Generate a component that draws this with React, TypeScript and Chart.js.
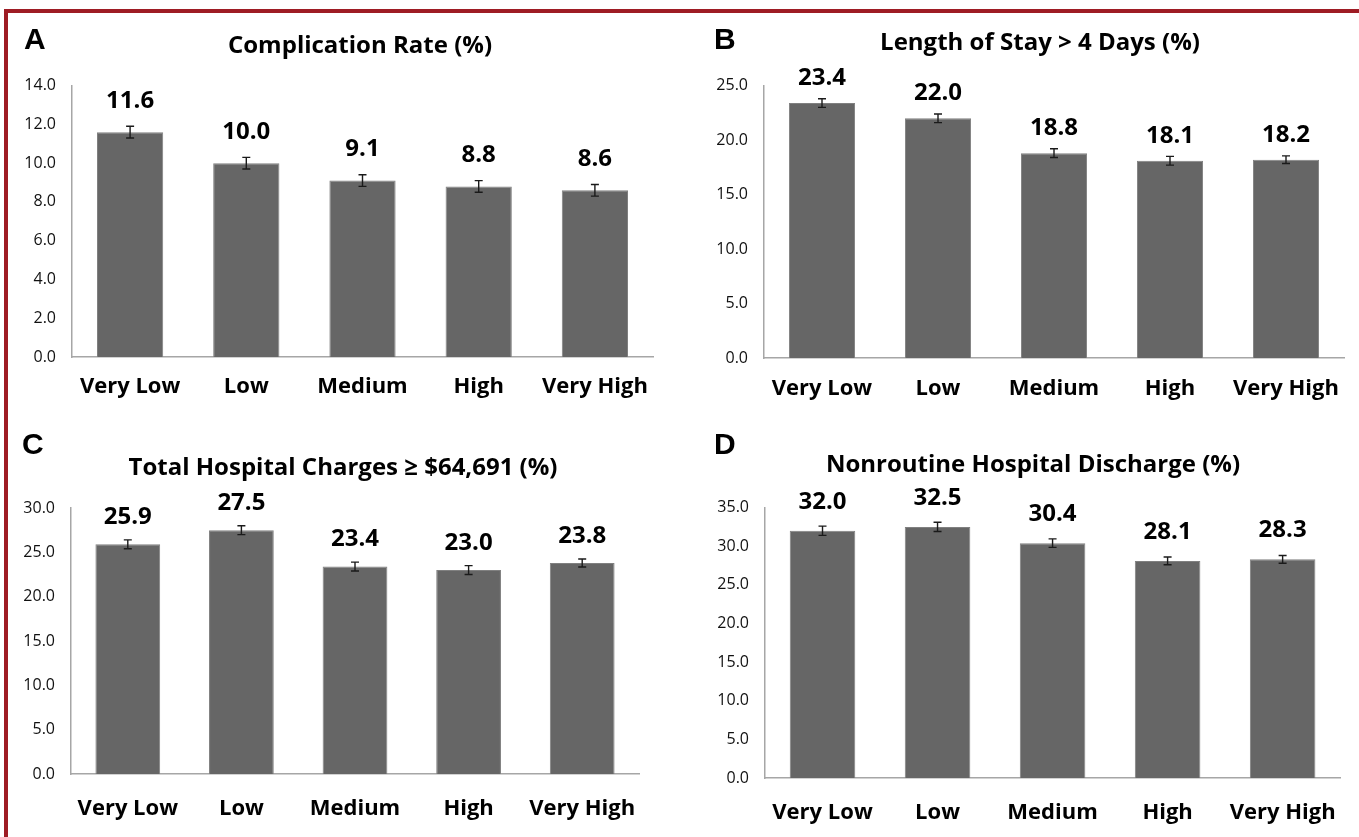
import React, { useEffect, useRef } from "react";
import { Chart, registerables } from "chart.js";

Chart.register(...registerables);

const categories = ["Very Low", "Low", "Medium", "High", "Very High"];

const complicationRate = [11.6, 10.0, 9.1, 8.8, 8.6];
const complicationErr = [0.3, 0.3, 0.3, 0.3, 0.3];

const lengthOfStay = [23.4, 22.0, 18.8, 18.1, 18.2];
const lengthOfStayErr = [0.4, 0.4, 0.4, 0.4, 0.35];

const hospitalCharges = [25.9, 27.5, 23.4, 23.0, 23.8];
const hospitalChargesErr = [0.5, 0.5, 0.5, 0.5, 0.45];

const nonroutineDischarge = [32.0, 32.5, 30.4, 28.1, 28.3];
const nonroutineDischargeErr = [0.6, 0.6, 0.55, 0.5, 0.5];

const titles = [
  "Complication Rate (%)",
  "Length of Stay > 4 Days (%)",
  "Total Hospital Charges \u2265 $64,691 (%)",
  "Nonroutine Hospital Discharge (%)",
];
const letters = ["A", "B", "C", "D"];

const FONT = '"Open Sans", "DejaVu Sans", sans-serif';

const errorLabelPlugin = {
  id: "errLabels",
  afterDatasetsDraw(chart: any, _args: any, opts: any) {
    const { ctx } = chart;
    const meta = chart.getDatasetMeta(0);
    const ys = chart.scales.y;
    const data = chart.data.datasets[0].data as number[];
    const errs: number[] = opts.errors || [];
    meta.data.forEach((bar: any, i: number) => {
      const v = data[i];
      const e = errs[i] || 0;
      const x = bar.x;
      const yHi = ys.getPixelForValue(v + e);
      const yLo = ys.getPixelForValue(v - e);
      ctx.save();
      ctx.strokeStyle = "#1a1a1a";
      ctx.lineWidth = 1.4;
      ctx.beginPath();
      ctx.moveTo(x, yHi);
      ctx.lineTo(x, yLo);
      ctx.moveTo(x - 4, yHi);
      ctx.lineTo(x + 4, yHi);
      ctx.moveTo(x - 4, yLo);
      ctx.lineTo(x + 4, yLo);
      ctx.stroke();
      ctx.fillStyle = "#000";
      ctx.font = `bold 24px ${FONT}`;
      ctx.textAlign = "center";
      ctx.textBaseline = "middle";
      ctx.fillText(v.toFixed(1), x, ys.getPixelForValue(v) - opts.offset);
      ctx.restore();
    });
  },
};

type PanelProps = {
  values: number[];
  errors: number[];
  max: number;
  step: number;
  canvas: { x: number; y: number; w: number; h: number };
  area: { left: number; right: number; top: number; bottom: number };
  labelOffset: number;
  tickPad: number;
};

function Panel({ values, errors, max, step, canvas, area, labelOffset, tickPad }: PanelProps) {
  const ref = useRef<HTMLCanvasElement | null>(null);
  useEffect(() => {
    if (!ref.current) return;
    const padLeft = 4;
    const yWidth = area.left - canvas.x - padLeft;
    const xHeight = canvas.y + canvas.h - area.bottom;
    const chart = new Chart(ref.current, {
      type: "bar",
      data: {
        labels: categories,
        datasets: [
          {
            data: values,
            backgroundColor: "#666666",
            borderColor: "#808080",
            borderWidth: 1,
            barPercentage: 0.57,
            categoryPercentage: 1,
          },
        ],
      },
      options: {
        animation: false,
        responsive: false,
        maintainAspectRatio: false,
        layout: {
          padding: {
            left: padLeft,
            right: canvas.x + canvas.w - area.right,
            top: area.top - canvas.y,
            bottom: 0,
          },
        },
        plugins: {
          legend: { display: false },
          tooltip: { enabled: false },
          errLabels: { errors, offset: labelOffset },
        } as any,
        scales: {
          x: {
            grid: { display: false, drawTicks: false },
            border: { display: true, color: "#a6a6a6", width: 1.5 },
            ticks: {
              color: "#000",
              font: { family: FONT, size: 22, weight: "bold" },
              padding: tickPad,
              maxRotation: 0,
              autoSkip: false,
            },
            afterFit: (s: any) => {
              s.height = xHeight;
            },
          },
          y: {
            min: 0,
            max,
            grid: { display: false, drawTicks: false },
            border: { display: true, color: "#a6a6a6", width: 1.5 },
            ticks: {
              stepSize: step,
              color: "#111",
              font: { family: FONT, size: 16 },
              padding: 16,
              callback: (v: any) => Number(v).toFixed(1),
            },
            afterFit: (s: any) => {
              s.width = yWidth;
            },
          },
        },
      },
      plugins: [errorLabelPlugin],
    } as any);
    return () => chart.destroy();
  }, []);
  return (
    <canvas
      ref={ref}
      width={canvas.w}
      height={canvas.h}
      style={{ position: "absolute", left: canvas.x, top: canvas.y, width: canvas.w, height: canvas.h }}
    />
  );
}

const textStyle = (cx: number, cy: number, size: number, family: string): React.CSSProperties => ({
  position: "absolute",
  left: cx - 400,
  top: cy - 20,
  width: 800,
  height: 40,
  lineHeight: "40px",
  textAlign: "center",
  fontFamily: family,
  fontWeight: "bold",
  fontSize: size,
  color: "#000",
  whiteSpace: "nowrap",
});

const letterStyle = (x: number, baseline: number): React.CSSProperties => ({
  position: "absolute",
  left: x,
  top: baseline - 28,
  fontFamily: '"Liberation Sans", Arial, sans-serif',
  fontWeight: "bold",
  fontSize: 30,
  lineHeight: "30px",
  color: "#000",
});

export default function App() {
  const titleFont = FONT;
  return (
    <div style={{ position: "absolute", left: 0, top: 0, width: 1359, height: 837, background: "#fff", overflow: "hidden" }}>
      <div style={{ position: "absolute", left: 4, top: 9, width: 1355, height: 4, background: "#9e1c24" }} />
      <div style={{ position: "absolute", left: 4, top: 9, width: 4, height: 828, background: "#9e1c24" }} />

      <Panel
        values={complicationRate}
        errors={complicationErr}
        max={14}
        step={2}
        canvas={{ x: 10, y: 60, w: 670, h: 360 }}
        area={{ left: 72, right: 653, top: 83, bottom: 357 }}
        labelOffset={31}
        tickPad={17}
      />
      <Panel
        values={lengthOfStay}
        errors={lengthOfStayErr}
        max={25}
        step={5}
        canvas={{ x: 680, y: 60, w: 679, h: 360 }}
        area={{ left: 764, right: 1344, top: 82, bottom: 358 }}
        labelOffset={25}
        tickPad={18}
      />
      <Panel
        values={hospitalCharges}
        errors={hospitalChargesErr}
        max={30}
        step={5}
        canvas={{ x: 10, y: 482, w: 670, h: 355 }}
        area={{ left: 71, right: 639, top: 508, bottom: 774 }}
        labelOffset={27}
        tickPad={22}
      />
      <Panel
        values={nonroutineDischarge}
        errors={nonroutineDischargeErr}
        max={35}
        step={5}
        canvas={{ x: 680, y: 482, w: 679, h: 355 }}
        area={{ left: 765, right: 1345, top: 507, bottom: 778 }}
        labelOffset={29}
        tickPad={22}
      />

      <div style={textStyle(360, 44, 24, titleFont)}>{titles[0]}</div>
      <div style={textStyle(1040, 41, 24, titleFont)}>{titles[1]}</div>
      <div style={textStyle(343, 466, 24, titleFont)}>{titles[2]}</div>
      <div style={textStyle(1033, 463, 24, titleFont)}>{titles[3]}</div>

      <div style={letterStyle(24, 52)}>{letters[0]}</div>
      <div style={letterStyle(714, 52)}>{letters[1]}</div>
      <div style={letterStyle(22, 457)}>{letters[2]}</div>
      <div style={letterStyle(714, 457)}>{letters[3]}</div>
    </div>
  );
}
